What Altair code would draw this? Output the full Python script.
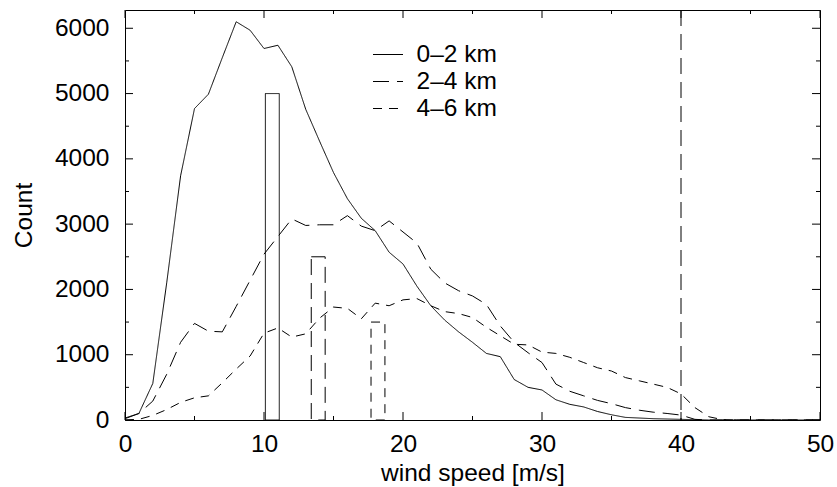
import altair as alt
import pandas as pd

FONT = "Liberation Sans"

# ---- data ----
speed = list(range(0, 51))
count_0_2 = [30, 100, 560, 2100, 3740, 4770, 4990, 5550, 6100, 5970,
             5690, 5740, 5410, 4760, 4270, 3790, 3390, 3090, 2900, 2570,
             2390, 2050, 1750, 1530, 1350, 1190, 1020, 970, 620, 500,
             460, 310, 240, 200, 130, 80, 40, 30, 20, 15,
             10, 5, 0, 0, 0, 0, 0, 0, 0, 0, 0]
count_2_4 = [20, 100, 290, 700, 1190, 1480, 1360, 1350, 1740, 2140,
             2540, 2810, 3080, 2980, 2990, 2990, 3130, 2970, 2900, 3050,
             2880, 2710, 2310, 2100, 1980, 1900, 1770, 1440, 1190, 1030,
             880, 550, 440, 370, 300, 250, 190, 150, 120, 100,
             75, 10, 0, 0, 0, 0, 0, 0, 0, 0, 0]
count_4_6 = [0, 10, 70, 160, 270, 340, 370, 570, 780, 980,
             1330, 1410, 1270, 1320, 1560, 1730, 1710, 1550, 1790, 1750,
             1840, 1860, 1750, 1660, 1630, 1570, 1420, 1290, 1160, 1150,
             1040, 1020, 960, 880, 800, 750, 650, 600, 550, 500,
             400, 190, 50, 5, 0, 0, 0, 0, 0, 0, 0]
series_names = ["0–2 km", "2–4 km", "4–6 km"]
bar_start = [10.1, 13.4, 17.7]
bar_end = [11.1, 14.4, 18.7]
bar_height = [5000, 2500, 1500]
cutoff_speed = [40]
x_major = [0, 10, 20, 30, 40, 50]
x_minor = [5, 15, 25, 35, 45]
y_major = [0, 1000, 2000, 3000, 4000, 5000, 6000]
y_minor = [500, 1500, 2500, 3500, 4500, 5500]

# ---- tables ----
lines_df = pd.DataFrame({
    "speed": speed * 3,
    "count": count_0_2 + count_2_4 + count_4_6,
    "series": [series_names[0]] * 51 + [series_names[1]] * 51 + [series_names[2]] * 51,
})
bars_df = pd.DataFrame({"series": series_names, "x0": bar_start,
                        "x1": bar_end, "h": bar_height})
cut_df = pd.DataFrame({"x": cutoff_speed})
xmaj_df = pd.DataFrame({"v": x_major})
xmin_df = pd.DataFrame({"v": x_minor})
ymaj_df = pd.DataFrame({"v": y_major})
ymin_df = pd.DataFrame({"v": y_minor})

W, H = 695, 410
DASHES = [[1, 0], [16, 8], [9, 7]]
xs = alt.Scale(domain=[0, 50], nice=False, zero=False)
ys = alt.Scale(domain=[0, 6280], nice=False, zero=False)
dash_scale = alt.Scale(domain=series_names, range=DASHES)

x_axis = alt.Axis(
    values=x_major, ticks=False, domain=False, grid=False, format="d",
    labelFont=FONT, labelFontSize=24.5, labelColor="black", labelPadding=12,
    labelFlush=False, labelOverlap=False,
    title="wind speed [m/s]", titleFont=FONT, titleFontSize=24.5,
    titleFontWeight="normal", titleColor="black",
    titleBaseline="alphabetic", titleY=60, titleX=W / 2)
y_axis = alt.Axis(
    values=y_major, ticks=False, domain=False, grid=False, format="d",
    labelFont=FONT, labelFontSize=24.5, labelColor="black", labelPadding=16,
    labelOverlap=False, labelFlush=False,
    title="Count", titleFont=FONT, titleFontSize=24.5,
    titleFontWeight="normal", titleColor="black",
    titleBaseline="alphabetic", titleX=-94, titleY=H / 2, titleAngle=270)

lines = alt.Chart(lines_df).mark_line(color="black", strokeWidth=1).encode(
    x=alt.X("speed:Q", scale=xs, axis=x_axis),
    y=alt.Y("count:Q", scale=ys, axis=y_axis),
    strokeDash=alt.StrokeDash("series:N", scale=dash_scale, sort=series_names,
        legend=alt.Legend(orient="none", legendX=247.5, legendY=29, title=None,
                          symbolType="stroke", symbolSize=900, symbolStrokeWidth=1,
                          symbolStrokeColor="black",
                          labelFont=FONT, labelFontSize=24.5, labelColor="black",
                          labelOffset=13, rowPadding=0, padding=0)),
    detail="series:N",
)

bar_layers = []
for name, dash in zip(series_names, DASHES):
    bar_layers.append(
        alt.Chart(bars_df).transform_filter(alt.datum.series == name)
        .mark_rect(fillOpacity=0, stroke="black", strokeWidth=1, strokeDash=dash)
        .encode(
            x=alt.X("x0:Q", scale=xs, axis=x_axis),
            x2="x1:Q",
            y=alt.Y("h:Q", scale=ys, axis=y_axis),
            y2=alt.datum(0),
        )
    )

cut = alt.Chart(cut_df).mark_rule(color="black", strokeWidth=1, strokeDash=[16, 8]).encode(
    x=alt.X("x:Q", scale=xs, axis=x_axis),
    y=alt.value(0), y2=alt.value(H),
)

def xticks(df, length):
    bottom = alt.Chart(df).mark_rule(color="black", strokeWidth=1).encode(
        x=alt.X("v:Q", scale=xs, axis=x_axis), y=alt.value(H), y2=alt.value(H - length))
    top = alt.Chart(df).mark_rule(color="black", strokeWidth=1).encode(
        x=alt.X("v:Q", scale=xs, axis=x_axis), y=alt.value(0), y2=alt.value(length))
    return [bottom, top]

def yticks(df, length):
    left = alt.Chart(df).mark_rule(color="black", strokeWidth=1).encode(
        y=alt.Y("v:Q", scale=ys, axis=y_axis), x=alt.value(0), x2=alt.value(length))
    right = alt.Chart(df).mark_rule(color="black", strokeWidth=1).encode(
        y=alt.Y("v:Q", scale=ys, axis=y_axis), x=alt.value(W), x2=alt.value(W - length))
    return [left, right]

layers = [lines] + bar_layers + [cut] + xticks(xmaj_df, 8) + xticks(xmin_df, 4) \
    + yticks(ymaj_df, 8) + yticks(ymin_df, 4)

chart = alt.layer(*layers).properties(
    width=W, height=H,
    autosize=alt.AutoSizeParams(type="none"),
    padding={"left": 125, "top": 10, "right": 17, "bottom": 67},
    background="white",
).configure_view(stroke="black", strokeWidth=1)

chart.save("out.html", embed_options={"renderer": "svg", "actions": False})
